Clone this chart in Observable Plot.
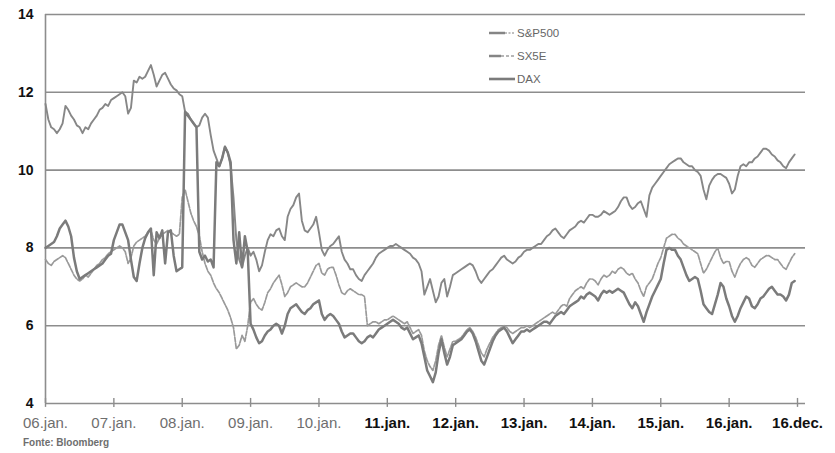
<!DOCTYPE html>
<html>
<head>
<meta charset="utf-8">
<script src="https://cdn.jsdelivr.net/npm/d3@7"></script>
<script src="https://cdn.jsdelivr.net/npm/@observablehq/plot@0.6"></script>
<style>
  body { margin: 0; background: #fff; }
  #wrap { position: relative; width: 835px; height: 453px; font-family: "Liberation Sans", Arial, sans-serif; }
  #legend { position: absolute; left: 489px; top: 21px; font-size: 11.5px; color: #666; }
  #legend .row { height: 23px; display: flex; align-items: center; }
  #legend svg { margin-right: 2px; }
  #caption { position: absolute; left: 23px; top: 437px; font-size: 10px; font-weight: bold; color: #6e6e6e; }
</style>
</head>
<body>
<div id="wrap"></div>
<script>
// Semi-monthly readings, 24 points per year starting January 2006
const startYear = 2006;
const perYear = 24;

const sp500 = [
  11.7, 11.3, 11.1, 11.05, 10.95, 11.05, 11.2, 11.65, 11.55, 11.4, 11.3, 11.15, 11.1, 10.95, 11.1, 11.05, 11.2, 11.3, 11.4, 11.55, 11.6, 11.7, 11.65, 11.8,
  11.85, 11.9, 11.95, 12.0, 11.9, 11.45, 11.6, 12.3, 12.25, 12.4, 12.35, 12.4, 12.55, 12.7, 12.45, 12.15, 12.3, 12.45, 12.5, 12.35, 12.2, 12.1, 12.05, 11.95,
  11.9, 11.5, 11.45, 11.3, 11.2, 11.1, 11.15, 11.35, 11.45, 11.35, 10.9, 10.5, 10.3, 10.1, 10.3, 10.6, 10.45, 10.1, 9.3, 8.2, 7.7, 7.5, 7.8, 8.0,
  7.8, 7.9, 7.7, 7.4, 7.55, 7.9, 8.2, 8.35, 8.3, 8.45, 8.5, 8.3, 8.2, 8.8, 9.0, 9.1, 9.3, 9.4, 8.7, 8.45, 8.4, 8.5, 8.6, 8.8,
  8.4, 7.95, 7.8, 7.95, 8.05, 8.1, 8.2, 8.3, 7.9, 7.7, 7.6, 7.45, 7.45, 7.3, 7.2, 7.15, 7.3, 7.4, 7.5, 7.6, 7.75, 7.85, 7.9, 7.95,
  8.0, 8.05, 8.05, 8.1, 8.05, 8.0, 7.95, 7.9, 7.85, 7.75, 7.7, 7.6, 7.4, 6.8, 7.0, 7.2, 6.9, 6.6, 6.75, 7.1, 7.2, 6.75, 7.0, 7.3,
  7.35, 7.4, 7.45, 7.5, 7.55, 7.6, 7.55, 7.4, 7.2, 7.1, 7.2, 7.3, 7.4, 7.45, 7.55, 7.65, 7.75, 7.8, 7.7, 7.65, 7.6, 7.65, 7.75, 7.8,
  7.9, 7.95, 7.95, 8.0, 8.05, 8.1, 8.1, 8.2, 8.3, 8.35, 8.45, 8.5, 8.4, 8.3, 8.25, 8.35, 8.45, 8.5, 8.55, 8.65, 8.7, 8.65, 8.75, 8.85,
  8.85, 8.8, 8.8, 8.85, 8.95, 8.9, 8.85, 8.9, 8.95, 9.05, 9.2, 9.3, 9.3, 9.1, 9.0, 9.05, 9.15, 9.2, 9.0, 8.8, 9.35, 9.55, 9.65, 9.75,
  9.85, 9.95, 10.05, 10.15, 10.2, 10.25, 10.3, 10.3, 10.2, 10.15, 10.1, 10.1, 10.0, 9.95, 9.85, 9.5, 9.25, 9.6, 9.75, 9.85, 9.9, 9.9, 9.85, 9.8,
  9.65, 9.4, 9.5, 9.85, 10.1, 10.15, 10.1, 10.2, 10.2, 10.3, 10.35, 10.45, 10.55, 10.55, 10.5, 10.4, 10.35, 10.25, 10.2, 10.1, 10.05, 10.2, 10.3, 10.4
];

const sx5e = [
  7.7, 7.6, 7.55, 7.65, 7.7, 7.75, 7.8, 7.75, 7.6, 7.45, 7.3, 7.2, 7.15, 7.2, 7.3, 7.25, 7.35, 7.45, 7.55, 7.6, 7.7, 7.75, 7.85, 7.9,
  7.95, 8.0, 8.05, 8.0, 7.9, 7.6, 7.75, 8.05, 8.15, 8.2, 8.25, 8.3, 8.4, 8.45, 8.2, 8.1, 8.25, 8.35, 8.4, 8.45, 8.4, 8.35, 8.3, 8.35,
  9.3, 9.5, 9.2, 8.9, 8.7, 8.55, 8.3, 7.9, 7.6, 7.4, 7.3, 7.1, 6.95, 6.85, 6.7, 6.55, 6.4, 6.2, 5.95, 5.4, 5.5, 5.75, 5.6, 6.0,
  6.6, 6.7, 6.55, 6.45, 6.4, 6.6, 6.85, 6.95, 7.1, 7.2, 7.3, 7.05, 6.75, 6.85, 7.0, 7.05, 7.1, 7.05, 7.0, 7.0, 7.1, 7.25, 7.4, 7.55,
  7.6, 7.35, 7.3, 7.45, 7.5, 7.5, 7.3, 7.05, 6.85, 6.8, 6.9, 6.95, 6.9, 6.85, 6.8, 6.8, 6.75, 6.0, 6.05, 6.1, 6.1, 6.05, 6.1, 6.15,
  6.15, 6.2, 6.25, 6.2, 6.15, 6.1, 6.05, 6.1, 5.95, 5.8, 5.85, 5.9, 5.75, 5.35, 5.1, 4.95, 4.85, 5.1, 5.5, 5.75, 5.45, 5.2, 5.4, 5.6,
  5.6, 5.65, 5.7, 5.8, 5.9, 5.95, 5.85, 5.7, 5.5, 5.3, 5.2, 5.4, 5.55, 5.7, 5.8, 5.9, 5.95, 6.0, 5.95, 5.85, 5.8, 5.85, 5.9, 5.95,
  5.95, 6.0, 5.95, 6.0, 6.05, 6.1, 6.15, 6.2, 6.25, 6.3, 6.35, 6.3, 6.4, 6.5, 6.55, 6.5, 6.7, 6.8, 6.9, 6.95, 7.0, 6.95, 7.1, 7.2,
  7.2, 7.15, 7.05, 7.2, 7.3, 7.25, 7.3, 7.4, 7.35, 7.45, 7.5, 7.45, 7.35, 7.3, 7.35, 7.2, 7.1, 6.9, 6.75, 7.0, 7.1, 7.2, 7.4, 7.6,
  7.75, 8.0, 8.25, 8.3, 8.35, 8.35, 8.25, 8.2, 8.1, 8.05, 8.0, 7.95, 7.9, 7.85, 7.6, 7.35, 7.45, 7.6, 7.75, 7.9, 8.0, 7.75, 7.6, 7.65,
  7.65, 7.4, 7.25, 7.45, 7.6, 7.7, 7.75, 7.7, 7.55, 7.5, 7.6, 7.7, 7.75, 7.8, 7.8, 7.75, 7.7, 7.7, 7.6, 7.5, 7.45, 7.6, 7.75, 7.85
];

const dax = [
  8.0, 8.05, 8.1, 8.15, 8.3, 8.5, 8.6, 8.7, 8.55, 8.3, 7.75, 7.4, 7.2, 7.25, 7.3, 7.35, 7.4, 7.45, 7.5, 7.55, 7.6, 7.7, 7.8, 7.85,
  8.2, 8.4, 8.6, 8.6, 8.4, 8.2, 7.7, 7.25, 7.15, 7.6, 8.0, 8.25, 8.4, 8.5, 7.3, 8.4, 8.25, 8.45, 7.6, 8.4, 8.45, 7.8, 7.4, 7.45,
  7.5, 11.5, 11.4, 11.3, 11.2, 11.1, 7.9, 7.7, 7.8, 7.65, 7.7, 7.5, 10.2, 10.1, 10.3, 10.6, 10.45, 10.2, 8.2, 7.6, 8.4, 7.5, 8.3, 7.9,
  6.05, 5.9, 5.7, 5.55, 5.6, 5.75, 5.85, 5.9, 6.0, 6.05, 6.0, 5.8, 6.0, 6.3, 6.45, 6.5, 6.55, 6.45, 6.35, 6.3, 6.4, 6.45, 6.55, 6.6,
  6.65, 6.3, 6.15, 6.25, 6.3, 6.25, 6.15, 6.05, 5.85, 5.7, 5.75, 5.8, 5.8, 5.7, 5.6, 5.55, 5.6, 5.7, 5.75, 5.7, 5.8, 5.9, 5.95, 6.0,
  6.05, 6.1, 6.15, 6.1, 6.05, 5.95, 5.9, 5.95, 5.8, 5.65, 5.7, 5.75, 5.55, 5.2, 4.85, 4.7, 4.55, 4.8, 5.3, 5.65, 5.3, 5.0, 5.2, 5.5,
  5.55, 5.6, 5.65, 5.75, 5.85, 5.9, 5.8, 5.6, 5.35, 5.1, 5.0, 5.2, 5.4, 5.6, 5.75, 5.85, 5.9, 5.95, 5.85, 5.7, 5.55, 5.65, 5.75, 5.85,
  5.85, 5.9, 5.85, 5.9, 5.95, 6.0, 6.05, 6.1, 6.1, 6.05, 6.15, 6.25, 6.3, 6.35, 6.3, 6.4, 6.5, 6.55, 6.6, 6.65, 6.75, 6.7, 6.8, 6.85,
  6.8, 6.75, 6.65, 6.8, 6.9, 6.85, 6.9, 6.85, 6.9, 6.95, 6.9, 6.85, 6.7, 6.55, 6.45, 6.6, 6.5, 6.3, 6.1, 6.35, 6.55, 6.75, 6.9, 7.05,
  7.2, 7.6, 7.95, 8.0, 7.95, 7.95, 7.8, 7.7, 7.5, 7.3, 7.15, 7.2, 7.25, 7.2, 6.9, 6.55, 6.45, 6.35, 6.3, 6.55, 6.8, 7.1, 7.0, 6.7,
  6.5, 6.25, 6.1, 6.25, 6.45, 6.6, 6.75, 6.7, 6.5, 6.45, 6.55, 6.7, 6.75, 6.85, 6.95, 7.0, 6.9, 6.8, 6.8, 6.75, 6.65, 6.8, 7.1, 7.15
];

const yTicks = [4, 6, 8, 10, 12, 14];
const gridValues = [6, 8, 10, 12, 14];
const xTickYears = [2006, 2007, 2008, 2009, 2010, 2011, 2012, 2013, 2014, 2015, 2016, 2017];
const xTickLabels = ["06.jan.", "07.jan.", "08.jan.", "09.jan.", "10.jan.", "11.jan.", "12.jan.", "13.jan.", "14.jan.", "15.jan.", "16.jan.", "16.dec."];
const seriesNames = ["S&P500", "SX5E", "DAX"];
const caption = "Fonte: Bloomberg";

const toRows = (values) => values.map((v, i) => ({ t: startYear + i / perYear, v }));
const xTicks = xTickYears.map((year, i) => ({ year, label: xTickLabels[i] }));

const grid = "#8d8d8d";
const font = "Liberation Sans, Arial, sans-serif";

const chart = Plot.plot({
  width: 835,
  height: 435,
  marginLeft: 45,
  marginRight: 30,
  marginTop: 14,
  marginBottom: 32,
  style: { fontFamily: font, background: "#fff" },
  x: { type: "linear", domain: [2006, 2017.117], axis: null },
  y: { domain: [4, 14], axis: null },
  marks: [
    Plot.ruleY(gridValues, { stroke: grid, strokeWidth: 1.6 }),
    Plot.ruleY([4], { stroke: grid, strokeWidth: 1.6 }),
    Plot.ruleX([2006], { y1: 4, y2: 14, stroke: grid, strokeWidth: 1.6 }),
    Plot.ruleX(xTickYears, { y1: 3.9, y2: 4.13, stroke: grid, strokeWidth: 1.4 }),
    Plot.line(toRows(sp500), { x: "t", y: "v", stroke: "#878787", strokeWidth: 1.9, strokeLinejoin: "round" }),
    Plot.line(toRows(sx5e), { x: "t", y: "v", stroke: "#9a9a9a", strokeWidth: 1.7, strokeDasharray: "5,1.5" }),
    Plot.line(toRows(dax), { x: "t", y: "v", stroke: "#7b7b7b", strokeWidth: 2.5, strokeLinejoin: "round" }),
    Plot.text(yTicks, { x: 2006, y: d => d, text: d => String(d), dx: -12, textAnchor: "end", fontSize: 14, fontWeight: "bold", fill: "#111" }),
    Plot.text(xTicks.slice(0, 5), { x: "year", y: 4, text: "label", dy: 20, fontSize: 15, fill: "#6e6e6e" }),
    Plot.text(xTicks.slice(5), { x: "year", y: 4, text: "label", dy: 20, fontSize: 15, fontWeight: "bold", fill: "#111" })
  ]
});

const wrap = document.getElementById("wrap");
wrap.appendChild(chart);

// Legend with small line samples for each index
const samples = {
  "S&P500": '<line x1="0" y1="5" x2="16" y2="5" stroke="#858585" stroke-width="2.5"/><line x1="16" y1="5" x2="26" y2="5" stroke="#aaa" stroke-width="1.3" stroke-dasharray="2,1.5"/>',
  "SX5E": '<line x1="0" y1="5" x2="12" y2="5" stroke="#858585" stroke-width="2.5"/><line x1="12" y1="5" x2="26" y2="5" stroke="#9e9e9e" stroke-width="1.3" stroke-dasharray="3,2"/>',
  "DAX": '<line x1="0" y1="5" x2="26" y2="5" stroke="#7b7b7b" stroke-width="2.6"/>'
};
const legend = document.createElement("div");
legend.id = "legend";
legend.innerHTML = seriesNames.map(name =>
  `<div class="row"><svg width="26" height="10">${samples[name]}</svg><span>${name.replace("&", "&amp;")}</span></div>`
).join("");
wrap.appendChild(legend);

const cap = document.createElement("div");
cap.id = "caption";
cap.textContent = caption;
wrap.appendChild(cap);
</script>
</body>
</html>
